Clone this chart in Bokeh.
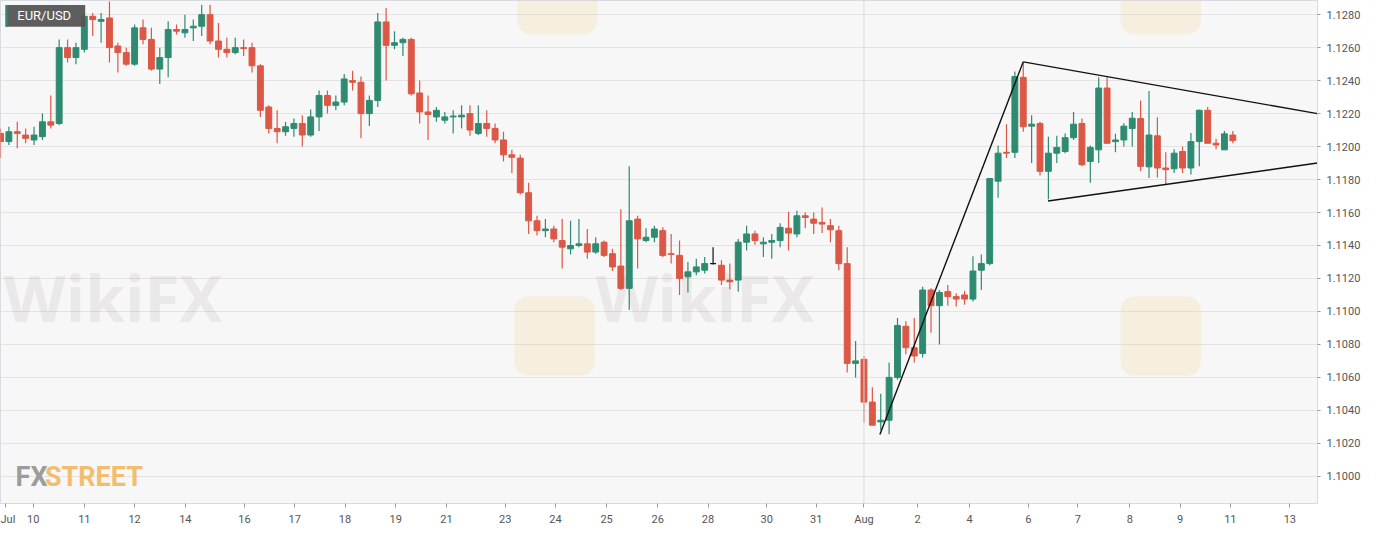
import numpy as np
import pandas as pd
from bokeh.plotting import figure
from bokeh.models import ColumnDataSource, FixedTicker, NumeralTickFormatter, Span, Label, BoxAnnotation, Range1d
from bokeh.embed import file_html
from bokeh.resources import INLINE

# ---- data (EUR/USD 4h candles) ----
opens = [1.1208,1.1203,1.1209,1.1207,1.1204,1.1206,1.1215,1.1214,1.1260,1.1254,
         1.1259,1.1279,1.1276,1.1278,1.1261,1.1257,1.1250,1.1272,1.1265,1.1247,
         1.1254,1.1271,1.1269,1.1272,1.1273,1.1280,1.1264,1.1259,1.1257,1.1260,
         1.1260,1.1249,1.1224,1.1211,1.1209,1.1211,1.1214,1.1207,1.1218,1.1231,
         1.1225,1.1227,1.1240,1.1239,1.1220,1.1228,1.12756,1.12614,1.1263,1.1265,
         1.12325,1.1221,1.1218,1.1216,1.1218,1.1218,1.1220,1.1208,1.1214,1.1211,
         1.1204,1.1195,1.1193,1.1172,1.1155,1.1149,1.1150,1.1143,1.1138,1.1140,
         1.1141,1.1136,1.1142,1.1135,1.11275,1.1114,1.1156,1.1143,1.1145,1.1149,
         1.1135,1.1134,1.1121,1.1124,1.1125,1.1129,1.1128,1.1119,1.1119,1.1142,
         1.1147,1.1141,1.1142,1.1143,1.11505,1.1147,1.1158,1.1156,1.1154,1.1152,
         1.1149,1.1129,1.10685,1.1071,1.1045,1.1033,1.1034,1.1060,1.1091,1.1078,
         1.10745,1.1113,1.11035,1.1112,1.1109,1.1110,1.11075,1.1125,1.1129,1.1179,
         1.11965,1.11965,1.1242,1.12124,1.1214,1.1185,1.1196,1.1197,1.12054,1.1214,
         1.1191,1.1198,1.12355,1.1203,1.1204,1.1211,1.1217,1.11877,1.12065,1.1187,
         1.11865,1.1197,1.1187,1.1203,1.1222,1.1202,1.1198,1.1207]
highs = [1.1211,1.1212,1.1215,1.1211,1.1212,1.1220,1.1231,1.1265,1.1265,1.1263,
         1.1281,1.1281,1.1281,1.1288,1.1263,1.1260,1.1274,1.1277,1.1272,1.1260,
         1.1276,1.1274,1.1280,1.1277,1.1286,1.1286,1.1275,1.1266,1.1266,1.1265,
         1.1263,1.1250,1.1225,1.1222,1.1215,1.1217,1.1219,1.12225,1.1234,1.1234,
         1.1231,1.1244,1.1246,1.12425,1.1231,1.1281,1.1284,1.1270,1.1266,1.1266,
         1.1240,1.1231,1.1224,1.1221,1.1222,1.1225,1.1225,1.1225,1.1222,1.1214,
         1.1209,1.1198,1.1195,1.1178,1.1158,1.1156,1.1152,1.1156,1.1155,1.1156,
         1.1150,1.1145,1.1143,1.1138,1.1162,1.1188,1.1158,1.11505,1.1152,1.1151,
         1.1147,1.1143,1.1130,1.1132,1.1133,1.1139,1.1131,1.1129,1.1144,1.1152,
         1.1149,1.1145,1.1147,1.11535,1.11605,1.1161,1.1160,1.1160,1.1163,1.1156,
         1.1152,1.1139,1.1082,1.1073,1.1054,1.1050,1.1069,1.1096,1.1094,1.1096,
         1.1115,1.1114,1.1113,1.1116,1.1111,1.11125,1.11335,1.11345,1.1181,1.12006,
         1.12136,1.12455,1.1251,1.1219,1.1215,1.1206,1.12065,1.1208,1.1221,1.1217,
         1.12006,1.1242,1.1242,1.12077,1.12142,1.1221,1.1228,1.12337,1.12178,1.11965,
         1.11983,1.1200,1.12083,1.12225,1.1224,1.12048,1.12095,1.12095]
lows = [1.1193,1.1201,1.1199,1.1202,1.1201,1.1204,1.1211,1.1213,1.1251,1.1250,
        1.1257,1.1267,1.1263,1.1251,1.1245,1.1249,1.1249,1.1262,1.1246,1.1238,
        1.1242,1.1268,1.1266,1.1264,1.1267,1.1262,1.1254,1.1254,1.1256,1.1255,
        1.1245,1.1218,1.1208,1.1202,1.12065,1.1206,1.1200,1.1206,1.12095,1.1220,
        1.1222,1.1225,1.1234,1.1205,1.12125,1.1224,1.1240,1.1259,1.1255,1.1231,
        1.1214,1.1204,1.1215,1.1214,1.1208,1.1211,1.12065,1.1207,1.1206,1.1202,
        1.1191,1.1184,1.1171,1.1147,1.1146,1.1145,1.1142,1.1126,1.11345,1.1139,
        1.1132,1.1135,1.1133,1.11245,1.1113,1.1101,1.1126,1.1142,1.1142,1.1133,
        1.1129,1.1110,1.11115,1.1122,1.1123,1.11285,1.1116,1.11135,1.1112,1.1137,
        1.11405,1.1133,1.1132,1.1139,1.1137,1.1145,1.11505,1.1147,1.11475,1.1142,
        1.1125,1.1063,1.1060,1.10325,1.1031,1.1028,1.10255,1.10585,1.1074,1.1069,
        1.1072,1.1087,1.1080,1.11035,1.1103,1.1104,1.1106,1.1113,1.1128,1.1169,
        1.1193,1.1193,1.1209,1.1190,1.11824,1.1168,1.1190,1.1196,1.1204,1.1188,
        1.1178,1.1190,1.1202,1.11965,1.1200,1.1200,1.1185,1.1181,1.11812,1.11765,
        1.1184,1.1184,1.1183,1.1188,1.1202,1.11983,1.1198,1.1202]
closes = [1.1203,1.1209,1.1208,1.1205,1.1207,1.1215,1.1213,1.1260,1.1254,1.1260,
          1.1279,1.1277,1.1277,1.1260,1.1257,1.1250,1.1272,1.1265,1.1247,1.1254,
          1.1271,1.1270,1.1271,1.1273,1.1280,1.1264,1.1259,1.1257,1.1260,1.12595,
          1.1249,1.1222,1.1211,1.1209,1.1212,1.1214,1.1207,1.1218,1.1231,1.1225,
          1.1227,1.1241,1.1239,1.1220,1.1228,1.12756,1.12614,1.1263,1.1265,1.1232,
          1.1221,1.12195,1.1222,1.1218,1.12185,1.1219,1.1210,1.1214,1.1211,1.1204,
          1.1195,1.11935,1.1172,1.1155,1.1149,1.1150,1.1144,1.1139,1.1140,1.1141,
          1.1136,1.1141,1.1134,1.1127,1.1114,1.1155,1.1144,1.1145,1.1150,1.1134,
          1.11345,1.1120,1.1124,1.1127,1.1129,1.1129,1.1119,1.1118,1.1142,1.1147,
          1.1143,1.1142,1.1143,1.1151,1.11475,1.1158,1.1157,1.11535,1.1153,1.11495,
          1.1129,1.10685,1.1070,1.1045,1.1031,1.1034,1.1060,1.10915,1.1078,1.1073,
          1.1113,1.11035,1.11115,1.1109,1.11075,1.11075,1.11245,1.1129,1.11806,1.1196,
          1.1196,1.12425,1.1212,1.12136,1.1185,1.1196,1.11995,1.12054,1.12136,1.1189,
          1.11995,1.12355,1.1202,1.1204,1.12124,1.12172,1.1188,1.1207,1.1187,1.1186,
          1.1196,1.1187,1.1203,1.1222,1.1202,1.1201,1.12077,1.12036]

# x-axis ticks (candle index) and labels
tick_pos = [0.6, 3.9, 10.0, 16.0, 22.05, 29.1, 35.1, 41.1, 47.15, 53.2, 60.2, 66.2, 72.3,
            78.4, 84.4, 91.4, 97.3, 103.0, 109.4, 115.6, 122.6, 128.5, 134.7, 140.7, 146.7, 153.8]
tick_labels = ["Jul", "10", "11", "12", "14", "16", "17", "18", "19", "21", "23", "24", "25",
               "26", "28", "30", "31", "Aug", "2", "4", "6", "7", "8", "9", "11", "13"]
price_ticks = [1.1000, 1.1020, 1.1040, 1.1060, 1.1080, 1.1100, 1.1120, 1.1140,
               1.1160, 1.1180, 1.1200, 1.1220, 1.1240, 1.1260, 1.1280]

# triangle / trend lines (candle index, price)
rise_x = [104.9, 122.0]
rise_y = [1.10254, 1.12514]
upper_x = [122.0, 157.1]
upper_y = [1.12514, 1.1220]
lower_x = [124.96, 157.1]
lower_y = [1.1167, 1.1190]

GREEN = "#2e8b72"
RED = "#dc5745"
BG = "#f7f7f7"

df = pd.DataFrame(dict(i=np.arange(len(opens)), o=opens, h=highs, l=lows, c=closes))
df["top"] = df[["o", "c"]].max(axis=1)
df["bot"] = df[["o", "c"]].min(axis=1)
df["color"] = np.where(df.c > df.o, GREEN, np.where(df.c < df.o, RED, "#111111"))
src = ColumnDataSource(df)

p = figure(width=1372, height=528, x_range=Range1d(0.0, 157.1),
           y_range=Range1d(1.09835, 1.12886), output_backend="svg",
           toolbar_location=None, y_axis_location="right",
           min_border_left=0, min_border_top=0, min_border_right=55, min_border_bottom=20,
           background_fill_color=BG, border_fill_color="white")
p.outline_line_color = "#d8dbe3"

# grid
p.xgrid.visible = False
p.ygrid.ticker = FixedTicker(ticks=price_ticks)
p.ygrid.grid_line_color = "#e3e3e3"
p.ygrid.grid_line_width = 1

# watermarks (kept fully inside the frame)
wm_color = "#7d7068"
for wx, wy in [(0.4, 1.1082), (71.0, 1.1082)]:
    p.add_layout(Label(x=wx, y=wy, text="WikiFX", text_font="Open Sans",
                       text_font_size="64px", text_font_style="bold",
                       text_color=wm_color, text_alpha=0.10))
for bx, by in [(61.3, 1.1061), (133.6, 1.1061), (61.6, 1.1268), (133.6, 1.1268)]:
    p.add_layout(BoxAnnotation(left=bx, right=bx + 9.6, bottom=by, top=by + 0.0048,
                               fill_color="#f2c46a", fill_alpha=0.16, line_alpha=0,
                               border_radius=14, level="underlay"))

# month separator
p.add_layout(Span(location=103.0, dimension="height", line_color="#dedede", line_width=1))

# candles
p.segment(x0="i", y0="h", x1="i", y1="l", color="color", line_width=1.2, source=src)
p.vbar(x="i", width=0.7, top="top", bottom="bot", fill_color="color",
       line_color="color", line_width=1, source=src)

# trend lines
for xs, ys in [(rise_x, rise_y), (upper_x, upper_y), (lower_x, lower_y)]:
    p.line(xs, ys, line_color="#111111", line_width=1.4)

# symbol tag
p.add_layout(BoxAnnotation(left=0.6, right=10.1, bottom=1.12727, top=1.12858,
                           fill_color="#555555", fill_alpha=0.95, line_alpha=0))
p.add_layout(BoxAnnotation(left=0.6, right=0.85, bottom=1.12727, top=1.12858,
                           fill_color=GREEN, fill_alpha=1, line_alpha=0))
p.add_layout(Label(x=2.0, y=1.12792, text="EUR/USD", text_baseline="middle",
                   text_font="Roboto", text_font_size="13px", text_color="white"))

# logo
p.add_layout(Label(x=1.8, y=1.0990, text="FX", text_font="Roboto",
                   text_font_size="27px", text_font_style="bold", text_color="#9c9c9c"))
p.add_layout(Label(x=5.3, y=1.0990, text="STREET", text_font="Roboto",
                   text_font_size="27px", text_font_style="bold", text_color="#f3bd6e"))

# axes
p.xaxis.ticker = FixedTicker(ticks=tick_pos)
p.xaxis.major_label_overrides = {t: l for t, l in zip(tick_pos, tick_labels)}
p.xaxis.minor_tick_line_color = None
p.xaxis.major_tick_in = 0
p.xaxis.major_tick_out = 4
p.xaxis.major_tick_line_color = "#9a9a9a"
p.xaxis.axis_line_color = "#d8dbe3"
p.xaxis.major_label_text_font = "Roboto"
p.xaxis.major_label_text_font_size = "11px"
p.xaxis.major_label_text_color = "#555555"
p.xaxis.major_label_standoff = 5

p.yaxis.ticker = FixedTicker(ticks=price_ticks)
p.yaxis.formatter = NumeralTickFormatter(format="0.0000")
p.yaxis.minor_tick_line_color = None
p.yaxis.major_tick_in = 0
p.yaxis.major_tick_out = 3
p.yaxis.major_tick_line_color = "#9a9a9a"
p.yaxis.axis_line_color = "#d8dbe3"
p.yaxis.major_label_text_font = "Roboto"
p.yaxis.major_label_text_font_size = "11px"
p.yaxis.major_label_text_color = "#555555"
p.yaxis.major_label_standoff = 6

open("out.html", "w").write(file_html(p, INLINE))
